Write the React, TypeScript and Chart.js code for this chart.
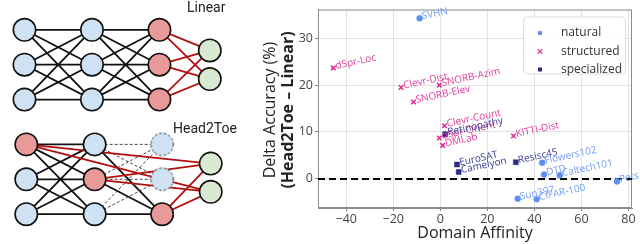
import React, { useEffect, useRef } from "react";
import { Chart, registerables } from "chart.js";
Chart.register(...registerables);

// ---------------- scatter data ----------------
const naturalNames = ["SVHN", "Flowers102", "DTD", "Caltech101", "Pets", "Sun397", "CIFAR-100"];
const naturalX = [-8.8, 43.3, 44.1, 50.8, 75.1, 32.9, 41.0];
const naturalY = [34.3, 3.4, 0.85, 0.7, -0.6, -4.3, -4.4];

const structuredNames = ["dSpr-Loc", "Clevr-Dist", "SNORB-Azim", "SNORB-Elev", "Clevr-Count", "dSpr-Orient", "DMLab", "KITTI-Dist"];
const structuredX = [-45.5, -16.7, -0.4, -11.4, 1.8, -0.4, 1.0, 31.1];
const structuredY = [23.7, 19.5, 20.0, 16.4, 11.3, 8.7, 7.1, 9.1];

const specializedNames = ["Retinopathy", "EuroSAT", "Camelyon", "Resisc45"];
const specializedX = [2.1, 7.1, 7.8, 32.1];
const specializedY = [9.5, 3.0, 1.4, 3.5];

const xTicks = [-40, -20, 0, 20, 40, 60, 80];
const yTicks = [0, 10, 20, 30];
const legendLabels = ["natural", "structured", "specialized"];

// ---------------- diagram data ----------------
const topLayerX = [13, 88, 163];
const topRowY = [19, 58, 97];
const topOutX = 219;
const topOutY = [42, 74];
const botLayerX = [15, 91, 166];
const botRowY = [147, 186, 225];
const botOutX = 220;
const botOutY = [168.5, 200];

const NAT = "#5f8ff0";
const STR = "#e0288f";
const SPE = "#2b2a80";
const NODE_BLUE = "#cfe2f3";
const NODE_RED = "#ea9999";
const NODE_GREEN = "#d9ead3";
const EDGE_RED = "#b30f0f";
const FONT = "'Open Sans', 'Noto Sans', sans-serif";

type P = { x: number; y: number | null };
const pt = (x: number, y: number): P => ({ x, y });
function segs(pairs: [P, P][]): P[] {
  const out: P[] = [];
  pairs.forEach(([a, b]) => {
    out.push(a, b, { x: b.x, y: null });
  });
  return out;
}

function Diagram() {
  const ref = useRef<HTMLCanvasElement | null>(null);
  useEffect(() => {
    if (!ref.current) return;
    const dn = document.createElement("canvas");
    dn.width = 26;
    dn.height = 26;
    const dc = dn.getContext("2d")!;
    dc.beginPath();
    dc.arc(13, 13, 11.2, 0, Math.PI * 2);
    dc.fillStyle = NODE_BLUE;
    dc.fill();
    dc.setLineDash([2.5, 2]);
    dc.lineWidth = 1;
    dc.strokeStyle = "#333";
    dc.stroke();

    const blackPairs: [P, P][] = [];
    const redPairs: [P, P][] = [];
    const dashPairs: [P, P][] = [];
    for (let c = 0; c < 2; c++)
      for (let i = 0; i < 3; i++)
        for (let j = 0; j < 3; j++)
          blackPairs.push([pt(topLayerX[c], topRowY[i]), pt(topLayerX[c + 1], topRowY[j])]);
    for (let i = 0; i < 3; i++)
      for (let j = 0; j < 2; j++) redPairs.push([pt(topLayerX[2], topRowY[i]), pt(topOutX, topOutY[j])]);
    for (let i = 0; i < 3; i++)
      for (let j = 0; j < 3; j++) blackPairs.push([pt(botLayerX[0], botRowY[i]), pt(botLayerX[1], botRowY[j])]);
    for (let i = 0; i < 3; i++) {
      blackPairs.push([pt(botLayerX[1], botRowY[i]), pt(botLayerX[2], botRowY[2])]);
      for (let j = 0; j < 2; j++) dashPairs.push([pt(botLayerX[1], botRowY[i]), pt(botLayerX[2], botRowY[j])]);
    }
    const redSrc = [pt(botLayerX[0], botRowY[0]), pt(botLayerX[1], botRowY[1]), pt(botLayerX[2], botRowY[2])];
    redSrc.forEach((s) => botOutY.forEach((oy) => redPairs.push([s, pt(botOutX, oy)])));

    const blueNodes: P[] = [];
    const redNodes: P[] = [];
    const greenNodes: P[] = [];
    const dashNodes: P[] = [];
    topLayerX.forEach((x, c) => topRowY.forEach((y) => (c < 2 ? blueNodes : redNodes).push(pt(x, y))));
    topOutY.forEach((y) => greenNodes.push(pt(topOutX, y)));
    const botKinds = [
      ["r", "b", "b"],
      ["b", "r", "b"],
      ["d", "d", "r"],
    ];
    botLayerX.forEach((x, c) =>
      botRowY.forEach((y, r) => {
        const k = botKinds[c][r];
        (k === "r" ? redNodes : k === "b" ? blueNodes : dashNodes).push(pt(x, y));
      })
    );
    botOutY.forEach((y) => greenNodes.push(pt(botOutX, y)));

    const lineDs = (data: P[], color: string, width: number, dash: number[] = []) => ({
      type: "line" as const,
      data,
      borderColor: color,
      borderWidth: width,
      borderDash: dash,
      pointRadius: 0,
      spanGaps: false,
      fill: false,
      order: 3,
      clip: false as any,
    });
    const nodeDs = (data: P[], fillc: string) => ({
      type: "scatter" as const,
      data,
      pointRadius: 11.2,
      backgroundColor: fillc,
      borderColor: "#111",
      borderWidth: 1.6,
      order: 1,
      clip: false as any,
    });

    const chart = new Chart(ref.current, {
      type: "scatter",
      data: {
        datasets: [
          lineDs(segs(dashPairs), "#333", 0.9, [3, 2]) as any,
          lineDs(segs(blackPairs), "#111", 1.8) as any,
          { ...lineDs(segs(redPairs), EDGE_RED, 1.8), order: 2 } as any,
          nodeDs(blueNodes, NODE_BLUE),
          nodeDs(redNodes, NODE_RED),
          nodeDs(greenNodes, NODE_GREEN),
          {
            type: "scatter",
            data: dashNodes,
            pointStyle: dn,
            order: 0,
            clip: false,
          } as any,
        ],
      },
      options: {
        animation: false,
        responsive: false,
        events: [],
        layout: { padding: 0 },
        scales: {
          x: { type: "linear", min: 0, max: 255, display: false },
          y: { type: "linear", min: 0, max: 244, reverse: true, display: false },
        },
        plugins: { legend: { display: false }, tooltip: { enabled: false } },
      },
      plugins: [
        {
          id: "diagramText",
          afterDraw(c: any) {
            const ctx = c.ctx;
            ctx.save();
            ctx.fillStyle = "#222";
            ctx.font = "14px Roboto, sans-serif";
            ctx.textBaseline = "alphabetic";
            ctx.fillText("Linear", 187, 12);
            ctx.fillText("Head2Toe", 173, 133);
            ctx.restore();
          },
        },
      ],
    });
    return () => chart.destroy();
  }, []);
  return <canvas ref={ref} width={255} height={244} style={{ position: "absolute", left: 0, top: 0 }} />;
}

const fmt = (v: number) => (v < 0 ? "\u2212" + Math.abs(v) : String(v));

function Scatter() {
  const ref = useRef<HTMLCanvasElement | null>(null);
  useEffect(() => {
    if (!ref.current) return;
    const toPts = (xs: number[], ys: number[]) => xs.map((x, i) => ({ x, y: ys[i] }));
    const names = [naturalNames, structuredNames, specializedNames];
    const labelColors = ["#6f9cf3", "#e2389b", "#3a3990"];
    const chart = new Chart(ref.current, {
      type: "scatter",
      data: {
        datasets: [
          {
            label: legendLabels[0],
            data: toPts(naturalX, naturalY),
            pointStyle: "circle",
            pointRadius: 3,
            backgroundColor: NAT,
            borderColor: NAT,
            borderWidth: 0.5,
          },
          {
            label: legendLabels[1],
            data: toPts(structuredX, structuredY),
            pointStyle: "crossRot",
            pointRadius: 3.2,
            backgroundColor: STR,
            borderColor: STR,
            borderWidth: 1.5,
          },
          {
            label: legendLabels[2],
            data: toPts(specializedX, specializedY),
            pointStyle: "rect",
            pointRadius: 3.5,
            backgroundColor: SPE,
            borderColor: SPE,
            borderWidth: 0.5,
          },
        ],
      },
      options: {
        animation: false,
        responsive: false,
        events: [],
        layout: { padding: { top: 8, right: 8, left: 0, bottom: 0 } },
        scales: {
          x: {
            type: "linear",
            min: -52,
            max: 81.5,
            afterBuildTicks: (s: any) => {
              s.ticks = xTicks.map((v) => ({ value: v }));
            },
            afterFit: (s: any) => {
              s.height = 36;
            },
            ticks: {
              callback: (v: any) => fmt(Number(v)),
              font: { family: FONT, size: 12.5 },
              color: "#444",
              padding: 1,
              maxRotation: 0,
            },
            grid: { color: "#e2e2e2", tickColor: "#888", tickLength: 3, lineWidth: 1 },
            border: { color: "#8c8c8c", width: 1 },
          },
          y: {
            type: "linear",
            min: -6.3,
            max: 36.2,
            afterBuildTicks: (s: any) => {
              s.ticks = yTicks.map((v) => ({ value: v }));
            },
            afterFit: (s: any) => {
              s.width = 63;
            },
            ticks: {
              callback: (v: any) => fmt(Number(v)),
              font: { family: FONT, size: 12.5 },
              color: "#444",
              padding: 2,
            },
            grid: { color: "#e2e2e2", tickColor: "#888", tickLength: 3, lineWidth: 1 },
            border: { color: "#8c8c8c", width: 1 },
          },
        },
        plugins: { legend: { display: false }, tooltip: { enabled: false } },
      },
      plugins: [
        {
          id: "frameZero",
          beforeDatasetsDraw(c: any) {
            const { ctx, chartArea: a, scales } = c;
            ctx.save();
            ctx.strokeStyle = "#8c8c8c";
            ctx.lineWidth = 1;
            ctx.strokeRect(a.left + 0.5, a.top + 0.5, a.right - a.left - 1, a.bottom - a.top - 1);
            const y0 = Math.round(scales.y.getPixelForValue(0));
            ctx.strokeStyle = "#000";
            ctx.lineWidth = 2;
            ctx.setLineDash([7, 4]);
            ctx.beginPath();
            ctx.moveTo(a.left, y0);
            ctx.lineTo(a.right, y0);
            ctx.stroke();
            ctx.restore();
          },
        },
        {
          id: "pointLabels",
          afterDatasetsDraw(c: any) {
            const ctx = c.ctx;
            ctx.save();
            ctx.font = `10px ${FONT}`;
            ctx.textBaseline = "alphabetic";
            ctx.textAlign = "left";
            [1, 2, 0].forEach((di) => {
              const meta = c.getDatasetMeta(di);
              ctx.fillStyle = labelColors[di];
              meta.data.forEach((el: any, i: number) => {
                ctx.save();
                ctx.translate(el.x + 3, el.y + 1);
                ctx.rotate((-12 * Math.PI) / 180);
                ctx.fillText(names[di][i], 0, 0);
                ctx.restore();
              });
            });
            ctx.restore();
          },
        },
        {
          id: "titlesLegend",
          afterDraw(c: any) {
            const { ctx, chartArea: a } = c;
            ctx.save();
            ctx.fillStyle = "#222";
            ctx.textAlign = "center";
            ctx.textBaseline = "middle";
            ctx.font = `16px ${FONT}`;
            ctx.fillText("Domain Affinity", (a.left + a.right) / 2, 233);
            const cy = 110;
            ctx.save();
            ctx.translate(15, cy);
            ctx.rotate(-Math.PI / 2);
            ctx.fillText("Delta Accuracy (%)", 0, 0);
            ctx.restore();
            ctx.save();
            ctx.translate(33, cy);
            ctx.rotate(-Math.PI / 2);
            ctx.font = `bold 16px ${FONT}`;
            ctx.fillText("(Head2Toe \u2013 Linear)", 0, 0);
            ctx.restore();
            const bx = a.right - 109;
            const by = a.top + 7;
            const bw = 102;
            const bh = 57;
            ctx.beginPath();
            (ctx as any).roundRect(bx + 0.5, by + 0.5, bw, bh, 4);
            ctx.fillStyle = "rgba(255,255,255,0.9)";
            ctx.fill();
            ctx.strokeStyle = "#dcdcdc";
            ctx.lineWidth = 1;
            ctx.stroke();
            const rows = [16.5, 35, 53];
            const mx = a.right - 92;
            const colors = [NAT, STR, SPE];
            rows.forEach((ry, i) => {
              const y = by + ry;
              ctx.fillStyle = colors[i];
              ctx.strokeStyle = colors[i];
              if (i === 0) {
                ctx.beginPath();
                ctx.arc(mx, y, 2.3, 0, Math.PI * 2);
                ctx.fill();
              } else if (i === 1) {
                ctx.lineWidth = 1.2;
                ctx.beginPath();
                ctx.moveTo(mx - 2.3, y - 2.3);
                ctx.lineTo(mx + 2.3, y + 2.3);
                ctx.moveTo(mx + 2.3, y - 2.3);
                ctx.lineTo(mx - 2.3, y + 2.3);
                ctx.stroke();
              } else {
                ctx.fillRect(mx - 2, y - 2, 4, 4);
              }
              ctx.fillStyle = "#333";
              ctx.textAlign = "left";
              ctx.textBaseline = "middle";
              ctx.font = `12px ${FONT}`;
              ctx.fillText(legendLabels[i], a.right - 71, y);
            });
            ctx.restore();
          },
        },
      ],
    });
    return () => chart.destroy();
  }, []);
  return <canvas ref={ref} width={385} height={244} style={{ position: "absolute", left: 255, top: 0 }} />;
}

export default function App() {
  return (
    <div style={{ position: "fixed", left: 0, top: 0, width: 640, height: 244, background: "#fff", overflow: "hidden" }}>
      <Diagram />
      <Scatter />
    </div>
  );
}
